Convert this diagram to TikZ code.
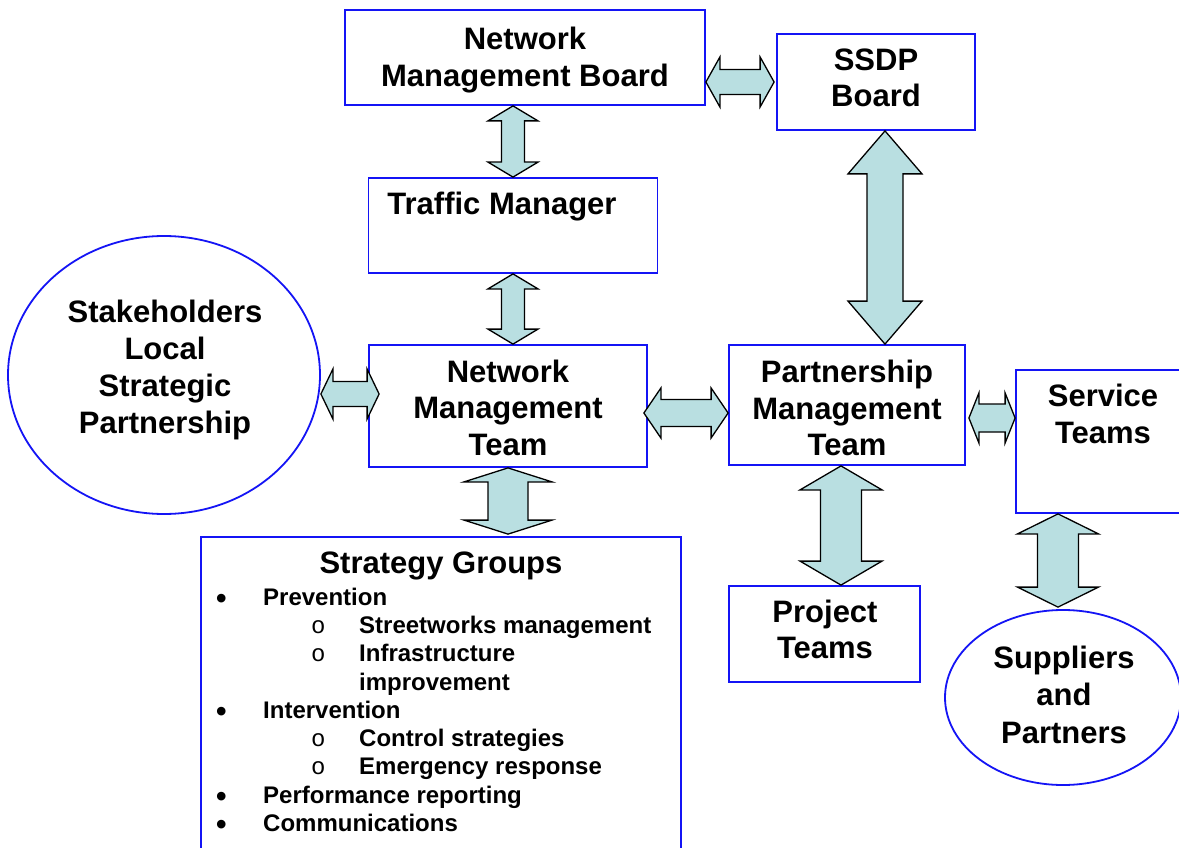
\documentclass[tikz,border=0pt]{standalone}
\usepackage{fontspec}
\setmainfont{Liberation Sans}
\newfontfamily\monofont{Liberation Mono}
\usetikzlibrary{calc,shapes.geometric}

\definecolor{boxblue}{RGB}{20,20,245}
\definecolor{arrowfill}{RGB}{185,223,225}

% vertical two-way block arrow: top point, bottom point, head half-width, shaft half-width, head length
\newcommand\vbiarrow[5]{%
  \draw[twoway] let \p1=(#1), \p2=(#2) in
    (\x1,\y1) -- (\x1+#3pt,\y1-#5pt) -- (\x1+#4pt,\y1-#5pt) -- (\x1+#4pt,\y2+#5pt)
    -- (\x1+#3pt,\y2+#5pt) -- (\x1,\y2) -- (\x1-#3pt,\y2+#5pt) -- (\x1-#4pt,\y2+#5pt)
    -- (\x1-#4pt,\y1-#5pt) -- (\x1-#3pt,\y1-#5pt) -- cycle;}
% horizontal two-way block arrow: left point, right point, head half-width, shaft half-width, head length
\newcommand\hbiarrow[5]{%
  \draw[twoway] let \p1=(#1), \p2=(#2) in
    (\x1,\y1) -- (\x1+#5pt,\y1+#3pt) -- (\x1+#5pt,\y1+#4pt) -- (\x2-#5pt,\y1+#4pt)
    -- (\x2-#5pt,\y1+#3pt) -- (\x2,\y1) -- (\x2-#5pt,\y1-#3pt) -- (\x2-#5pt,\y1-#4pt)
    -- (\x1+#5pt,\y1-#4pt) -- (\x1+#5pt,\y1-#3pt) -- cycle;}

\tikzset{
  box/.style={draw=boxblue, line width=1.8pt, rectangle, inner sep=0pt},
  oval/.style={draw=boxblue, line width=1.8pt, ellipse, inner sep=0pt},
  lbl/.style={font=\fontsize{31}{36.5}\selectfont\bfseries, align=center, inner sep=0pt},
  twoway/.style={draw=black, line width=1.3pt, fill=arrowfill, line join=miter},
}

\begin{document}
\begin{tikzpicture}[x=1pt,y=-1pt]
\useasboundingbox (0,0) rectangle (1179,848);
\clip (0,0) rectangle (1179,848);
\fill[white] (0,0) rectangle (1179,848);

% boxes and ovals
\node[box, minimum width=360pt, minimum height=95pt] (nmb) at (525,57.5) {};
\node[box, minimum width=198pt, minimum height=96pt] (ssdp) at (876,82) {};
\node[box, minimum width=289pt, minimum height=95pt] (tm) at (513,225.5) {};
\node[oval, minimum width=312pt, minimum height=278pt] (stake) at (164,375) {};
\node[box, minimum width=278pt, minimum height=122pt] (nmt) at (508,406) {};
\node[box, minimum width=236pt, minimum height=120pt] (pmt) at (847,405) {};
\node[box, minimum width=168pt, minimum height=143pt] (svc) at (1100,441.5) {};
\node[box, minimum width=191pt, minimum height=96pt] (proj) at (824.5,634) {};
\node[oval, minimum width=236pt, minimum height=175pt] (sup) at (1063,697.5) {};
\node[box, minimum width=480pt, minimum height=323pt] (sg) at (441,698.5) {};

% labels
\node[lbl] (nmbText) at (525,60) {Network\\Management Board};
\node[lbl] (ssdpText) at (876,78) {SSDP\\Board};
\node[lbl] (tmText) at (502,207) {Traffic Manager};
\node[lbl, font=\fontsize{31}{37}\selectfont\bfseries] (stakeText) at (165,370) {Stakeholders\\Local\\Strategic\\Partnership};
\node[lbl] (nmtText) at (508,407.5) {Network\\Management\\Team};
\node[lbl] (pmtText) at (847,408) {Partnership\\Management\\Team};
\node[lbl] (svcText) at (1103,414) {Service\\Teams};
\node[lbl] (projText) at (825,629.5) {Project\\Teams};
\node[lbl, font=\fontsize{31}{37.5}\selectfont\bfseries] (supText) at (1064,694.5) {Suppliers\\and\\Partners};

% strategy groups contents
\node[lbl, anchor=base] (sgTitle) at (441,573) {Strategy Groups};
\newcommand\dotitem{\makebox[47pt][l]{\raisebox{-3pt}{\fontsize{30}{30}\selectfont\textbullet}}}
\newcommand\ringitem{\hspace*{95pt}\makebox[48pt][l]{\mdseries\monofont o}}
\node[anchor=north west, align=left, inner sep=0pt,
      font=\fontsize{24}{28.25}\selectfont\bfseries] (sgList) at (216,587.8)
  {\dotitem Prevention\\
   \ringitem Streetworks management\\
   \ringitem Infrastructure\\
   \hspace*{143pt}improvement\\
   \dotitem Intervention\\
   \ringitem Control strategies\\
   \ringitem Emergency response\\
   \dotitem Performance reporting\\
   \dotitem Communications};

% two-way connectors
\hbiarrow{nmb.east |- ssdp.west}{$(ssdp.west)+(-2,0)$}{25}{12.5}{14}
\vbiarrow{tm.north |- nmb.south}{tm.north}{25}{11.5}{15}
\vbiarrow{tm.south}{tm.south |- nmt.north}{25}{11.5}{15}
\hbiarrow{$(stake.east |- nmt.west)+(0,-12)$}{$(nmt.west)+(11,-12)$}{25}{12.5}{12}
\vbiarrow{nmt.south}{$(nmt.south |- sg.north)+(0,-2)$}{44}{20}{14}
\hbiarrow{$(nmt.east)+(-4,7)$}{pmt.west}{25}{13.5}{17}
\vbiarrow{$(ssdp.south)+(9,0)$}{$(ssdp.south |- pmt.north)+(9,0)$}{37}{18}{43}
\hbiarrow{$(pmt.east)+(3,13)$}{$(svc.west)+(0,-10.5)$}{25}{14}{10}
\vbiarrow{$(pmt.south)+(-6,0)$}{$(pmt.south |- proj.north)+(-6,0)$}{41}{20.5}{24}
\vbiarrow{$(sup.north |- svc.south)+(-5,0)$}{$(sup.north)+(-5,-2)$}{40.5}{20.5}{20}
\end{tikzpicture}
\end{document}
